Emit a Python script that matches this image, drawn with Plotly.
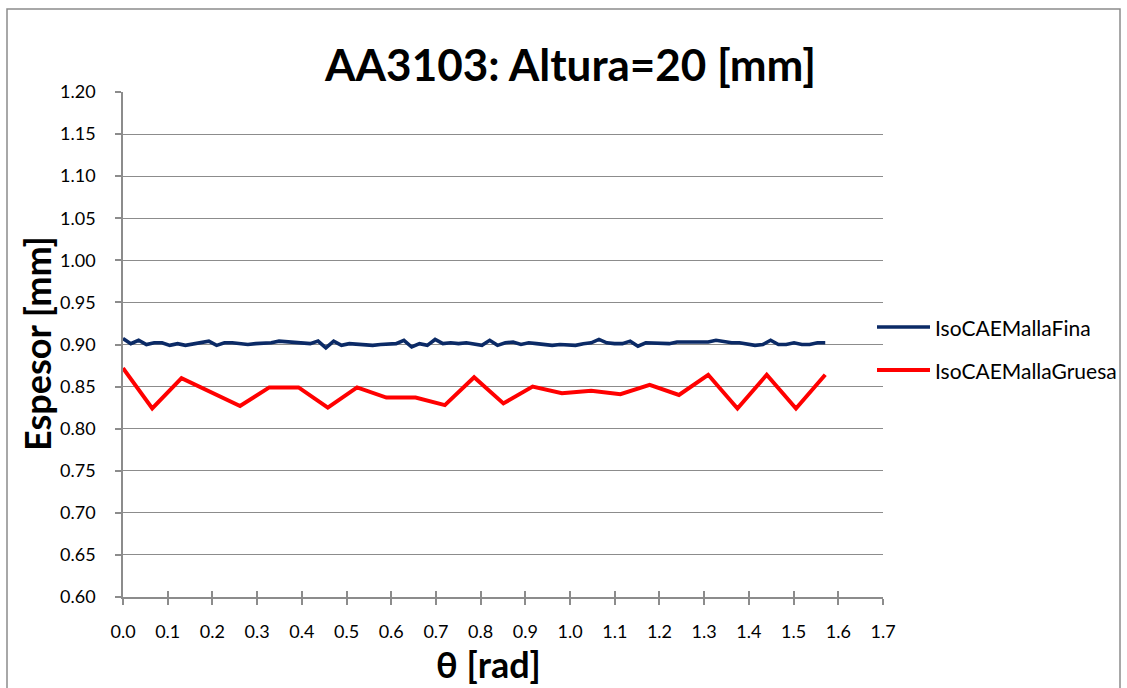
import numpy as np
import plotly.graph_objects as go

# Fine mesh: one sample per degree (0..90 deg), expressed in radians
fina_deg = list(range(0, 91))
fina_espesor = [
    0.907, 0.901, 0.905, 0.900, 0.902, 0.902, 0.899, 0.901, 0.899, 0.901,
    0.903, 0.904, 0.899, 0.902, 0.902, 0.901, 0.900, 0.901, 0.901, 0.902,
    0.904, 0.903, 0.903, 0.902, 0.901, 0.904, 0.896, 0.904, 0.899, 0.901,
    0.900, 0.899, 0.899, 0.900, 0.900, 0.901, 0.905, 0.897, 0.901, 0.899,
    0.906, 0.901, 0.902, 0.901, 0.902, 0.900, 0.899, 0.905, 0.899, 0.902,
    0.903, 0.900, 0.902, 0.901, 0.900, 0.899, 0.900, 0.900, 0.899, 0.901,
    0.902, 0.906, 0.902, 0.901, 0.901, 0.904, 0.898, 0.902, 0.902, 0.902,
    0.901, 0.903, 0.903, 0.903, 0.903, 0.903, 0.905, 0.903, 0.902, 0.902,
    0.901, 0.899, 0.900, 0.905, 0.900, 0.900, 0.902, 0.900, 0.900, 0.902,
    0.902,
]

# Coarse mesh: one sample every 3.75 deg (pi/48 rad)
gruesa_idx = list(range(0, 25))
gruesa_espesor = [
    0.872, 0.824, 0.860, 0.843, 0.827, 0.849, 0.849, 0.825, 0.849, 0.837,
    0.837, 0.828, 0.861, 0.830, 0.850, 0.842, 0.845, 0.841, 0.852, 0.840,
    0.864, 0.824, 0.864, 0.824, 0.864,
]

x_ticks = [round(0.1 * k, 1) for k in range(0, 18)]
y_ticks = [round(0.60 + 0.05 * k, 2) for k in range(0, 13)]

theta_fina = np.radians(fina_deg)
theta_gruesa = np.array(gruesa_idx) * np.pi / 48

FONT = "Lato"
GRID = "#8c8c8c"
NAVY = "#0b2a66"
RED = "#ff0000"

fig = go.Figure()
fig.add_trace(go.Scatter(x=theta_fina, y=fina_espesor, mode="lines",
                         name="IsoCAEMallaFina",
                         line=dict(color=NAVY, width=3.6)))
fig.add_trace(go.Scatter(x=theta_gruesa, y=gruesa_espesor, mode="lines",
                         name="IsoCAEMallaGruesa",
                         line=dict(color=RED, width=4)))

W, H = 1127, 688
L, R, T, B = 123, 244, 92, 91
pw, ph = W - L - R, H - T - B


def px(xp):
    return (xp - L) / pw


def py(yp):
    return (H - B - yp) / ph


fig.update_layout(
    width=W, height=H,
    margin=dict(l=L, r=R, t=T, b=B),
    paper_bgcolor="white", plot_bgcolor="white",
    showlegend=False,
    font=dict(family=FONT, color="black"),
    xaxis=dict(range=[0, 1.7], tickvals=x_ticks,
               ticktext=[f"{v:.1f}" for v in x_ticks],
               showgrid=False, zeroline=False,
               showline=True, linecolor=GRID, linewidth=1.5,
               ticks="outside", ticklen=6, tickcolor=GRID, tickwidth=1.5,
               ticklabelstandoff=12,
               tickfont=dict(size=18, family=FONT)),
    xaxis2=dict(range=[0, 1.7], tickvals=x_ticks, overlaying="x",
                matches="x", side="bottom", showticklabels=False,
                showgrid=False, zeroline=False, showline=False,
                ticks="inside", ticklen=6, tickcolor=GRID, tickwidth=1.5),
    yaxis=dict(range=[0.6, 1.2], tickvals=y_ticks,
               ticktext=[f"{v:.2f}" for v in y_ticks],
               showgrid=True, gridcolor=GRID, gridwidth=1.2,
               zeroline=False,
               showline=True, linecolor=GRID, linewidth=1.5,
               ticks="outside", ticklen=6, tickcolor=GRID, tickwidth=1.5,
               ticklabelstandoff=16,
               tickfont=dict(size=18, family=FONT)),
)

# invisible trace so the overlay axis carrying the inner tick halves is drawn
fig.add_trace(go.Scatter(x=[0], y=[0.6], xaxis="x2", mode="markers",
                         marker=dict(opacity=0), hoverinfo="skip",
                         showlegend=False))

annotations = [
    dict(text="<b>AA3103: Altura=20 [mm]</b>", x=px(570), y=py(64),
         font=dict(size=44, family=FONT)),
    dict(text="<b>θ [rad]</b>", x=px(488), y=py(664),
         font=dict(size=36, family=FONT)),
    dict(text="<b>Espesor [mm]</b>", x=px(37), y=py(344), textangle=-90,
         font=dict(size=36, family=FONT)),
    dict(text="IsoCAEMallaFina", x=px(933), y=py(327), xanchor="left",
         font=dict(size=21, family=FONT)),
    dict(text="IsoCAEMallaGruesa", x=px(933), y=py(370), xanchor="left",
         font=dict(size=21, family=FONT)),
]
for a in annotations:
    a.setdefault("xanchor", "center")
    fig.add_annotation(xref="paper", yref="paper", yanchor="middle",
                       showarrow=False, **a)

shapes = [
    # legend line samples
    dict(type="line", x0=px(877), x1=px(930), y0=py(327), y1=py(327),
         line=dict(color=NAVY, width=3.6)),
    dict(type="line", x0=px(877), x1=px(930), y0=py(370), y1=py(370),
         line=dict(color=RED, width=4)),
    # chart frame
    dict(type="rect", x0=px(7), x1=px(1120), y0=py(700), y1=py(9),
         line=dict(color="#8c8c8c", width=1.5)),
]
for s in shapes:
    fig.add_shape(xref="paper", yref="paper", layer="below", **s)

fig.write_html("out.html")
